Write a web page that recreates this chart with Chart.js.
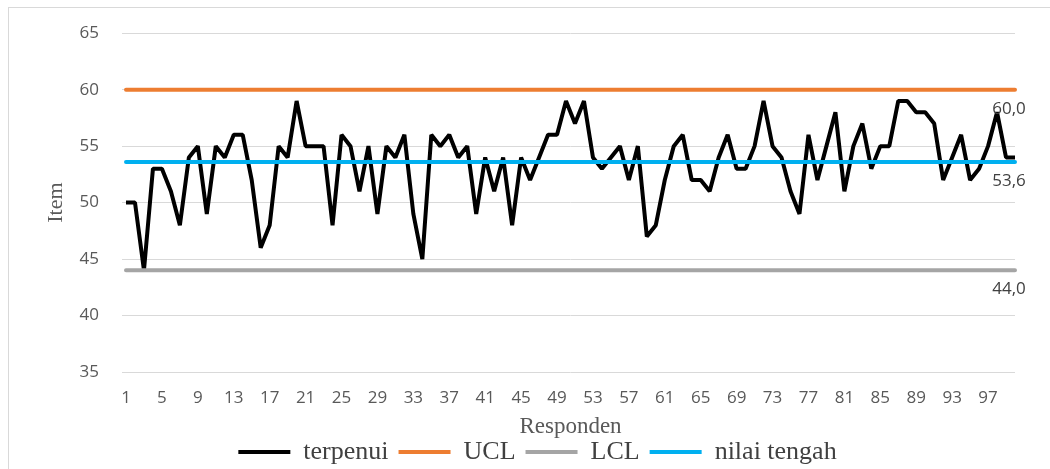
<!DOCTYPE html>
<html>
<head>
<meta charset="utf-8">
<script src="https://cdn.jsdelivr.net/npm/chart.js@4.4.1/dist/chart.umd.min.js"></script>
<style>
    html, body { margin: 0; padding: 0; background: #fff; overflow: hidden; }
    #wrap { position: relative; width: 1050px; height: 469px; overflow: hidden; }
    #frame { position: absolute; left: 8px; top: 7px; width: 1100px; height: 500px;
             border-top: 1px solid #d9d9d9; border-left: 1px solid #d9d9d9; }
    #chart { position: absolute; left: 0; top: 0; }
</style>
</head>
<body>
<div id="wrap">
    <div id="frame"></div>
    <canvas id="chart" width="1050" height="475"></canvas>
</div>
<script>
// responden 1..100
const responden = [];
for (let i = 1; i <= 100; i++) responden.push(String(i));

const terpenui = [
    50, 50, 44, 53, 53, 51, 48, 54, 55, 49,
    55, 54, 56, 56, 52, 46, 48, 55, 54, 59,
    55, 55, 55, 48, 56, 55, 51, 55, 49, 55,
    54, 56, 49, 45, 56, 55, 56, 54, 55, 49,
    54, 51, 54, 48, 54, 52, 54, 56, 56, 59,
    57, 59, 54, 53, 54, 55, 52, 55, 47, 48,
    52, 55, 56, 52, 52, 51, 54, 56, 53, 53,
    55, 59, 55, 54, 51, 49, 56, 52, 55, 58,
    51, 55, 57, 53, 55, 55, 59, 59, 58, 58,
    57, 52, 54, 56, 52, 53, 55, 58, 54, 54
];

const ucl = 60.0;
const lcl = 44.0;
const nilaiTengah = 53.6;

const yTicks = [35, 40, 45, 50, 55, 60, 65];

const uclLine = responden.map(() => ucl);
const lclLine = responden.map(() => lcl);
const tengahLine = responden.map(() => nilaiTengah);

Chart.defaults.font.family = "'Open Sans', sans-serif";
Chart.defaults.color = '#595959';

// label on the last point of the control lines (60,0 / 53,6 / 44,0)
const endLabels = {
    id: 'endLabels',
    afterDatasetsDraw(chart) {
        const ctx = chart.ctx;
        ctx.save();
        ctx.font = "17px 'Open Sans'";
        ctx.fillStyle = '#404040';
        ctx.textAlign = 'center';
        ctx.textBaseline = 'middle';
        chart.data.datasets.forEach((ds, i) => {
            if (!ds.endLabel) return;
            const meta = chart.getDatasetMeta(i);
            const last = meta.data[meta.data.length - 1];
            const v = ds.data[ds.data.length - 1];
            ctx.fillText(v.toFixed(1).replace('.', ','), last.x - 6, last.y + 19);
        });
        ctx.restore();
    }
};

// legend sits a bit right of the canvas centre in the original
const legendShift = {
    id: 'legendShift',
    afterLayout(chart) {
        chart.legend.left += 30;
        chart.legend.right += 30;
    }
};

const lineBase = {
    borderWidth: 4,
    borderJoinStyle: 'bevel',
    pointRadius: 0,
    pointHoverRadius: 0,
    tension: 0,
    fill: false
};

new Chart(document.getElementById('chart'), {
    type: 'line',
    data: {
        labels: responden,
        datasets: [
            Object.assign({ label: 'terpenui', data: terpenui, borderColor: '#000000', backgroundColor: '#000000', order: 4 }, lineBase),
            Object.assign({ label: 'UCL', data: uclLine, borderColor: '#ED7D31', backgroundColor: '#ED7D31', order: 3, endLabel: true, borderCapStyle: 'round' }, lineBase),
            Object.assign({ label: 'LCL', data: lclLine, borderColor: '#A5A5A5', backgroundColor: '#A5A5A5', order: 2, endLabel: true, borderCapStyle: 'round' }, lineBase),
            Object.assign({ label: 'nilai tengah', data: tengahLine, borderColor: '#00B0F0', backgroundColor: '#00B0F0', order: 1, endLabel: true, borderCapStyle: 'round' }, lineBase)
        ]
    },
    options: {
        responsive: false,
        animation: false,
        layout: {
            padding: { top: 31, right: 35, bottom: 0, left: 0 }
        },
        scales: {
            x: {
                grid: { display: false, drawTicks: false },
                border: { display: false },
                afterFit: (scale) => { scale.height = 57; },
                ticks: {
                    autoSkip: false,
                    maxRotation: 0,
                    padding: 16,
                    font: { size: 17 },
                    callback: (val, i) => (i % 4 === 0 ? responden[i] : '')
                },
                title: {
                    display: true,
                    text: 'Responden',
                    color: '#595959',
                    font: { family: "'Liberation Serif', serif", size: 23, lineHeight: 1 },
                    padding: { top: 0, bottom: -9 }
                }
            },
            y: {
                min: 35,
                max: 65,
                afterFit: (scale) => { scale.width = 126; },
                afterBuildTicks: (scale) => { scale.ticks = yTicks.map(v => ({ value: v })); },
                grid: { color: '#d9d9d9', lineWidth: 1, drawTicks: true, tickLength: 4 },
                border: { display: false },
                ticks: {
                    padding: 23,
                    font: { size: 17 }
                },
                title: {
                    display: true,
                    text: 'Item',
                    color: '#595959',
                    font: { family: "'Liberation Serif', serif", size: 22 },
                    padding: { top: 43, bottom: 0 }
                }
            }
        },
        plugins: {
            legend: {
                position: 'bottom',
                labels: {
                    boxWidth: 52,
                    boxHeight: 0,
                    padding: 10,
                    color: '#404040',
                    font: { family: "'Liberation Serif', serif", size: 26 },
                    sort: (a, b) => a.datasetIndex - b.datasetIndex
                }
            },
            tooltip: { enabled: false }
        }
    },
    plugins: [endLabels, legendShift]
});
</script>
</body>
</html>
